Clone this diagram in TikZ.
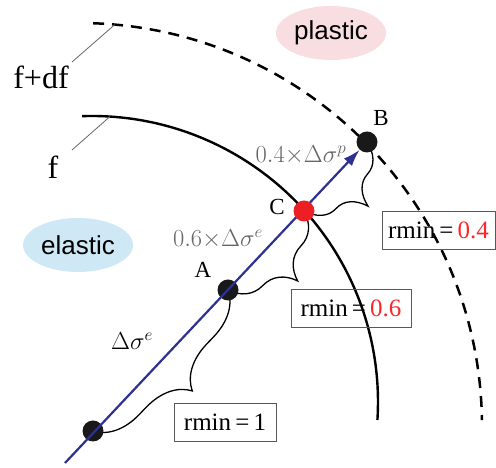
\documentclass[tikz,border=0pt]{standalone}
\usepackage{fix-cm}
\usepackage{fontspec}
\setmainfont{Liberation Serif}
\newfontfamily\zonefont{Liberation Sans}
\usetikzlibrary{arrows.meta, decorations.pathreplacing, calc, shapes.geometric}

\definecolor{navy}{RGB}{46,49,146}
\definecolor{numred}{RGB}{250,40,40}
\definecolor{dotred}{RGB}{236,32,36}
\definecolor{plasticpink}{RGB}{248,222,224}
\definecolor{elasticblue}{RGB}{206,233,245}

\begin{document}
\begin{tikzpicture}[
  x=1pt, y=1pt,
  dot/.style={circle, fill=black!90, minimum size=21pt, inner sep=0pt},
  reddot/.style={circle, fill=dotred, minimum size=21pt, inner sep=0pt},
  zone/.style={ellipse, minimum width=110pt, minimum height=54pt, inner sep=0pt,
    font=\zonefont\fontsize{26}{26}\selectfont},
  ptlabel/.style={font=\fontsize{23}{23}\selectfont},
  surflabel/.style={font=\fontsize{32}{32}\selectfont},
  incr/.style={text=black!60, font=\fontsize{24.5}{24.5}\selectfont},
  rbox/.style={draw=black!65, line width=0.9pt, minimum height=38pt, inner sep=0pt,
    font=\fontsize{25}{25}\selectfont},
  brc/.style={decorate, decoration={brace, amplitude=44pt}, line width=1.3pt},
  leader/.style={draw=black!60, line width=0.8pt}
]
\useasboundingbox (0,0) rectangle (496,468);

% centres of the two yield surfaces
\coordinate (Of)  at (92,66);
\coordinate (Odf) at (79,42);

% yield surfaces f and f+df
\draw[line width=2.4pt] ($(Of)+(92:286pt)$) arc[start angle=92, end angle=-3.6, radius=286pt];
\draw[line width=2.5pt, dash pattern=on 11pt off 8pt]
  ($(Odf)+(88:403pt)$) arc[start angle=88, end angle=0.85, radius=403pt];

% points on the stress path
\coordinate (l0) at (65,5);
\coordinate (p0) at (93,37);
\coordinate (a)  at (228,178);
\coordinate (c)  at (304,257);
\coordinate (b)  at (367,326);

% braces
\draw[brc] (a) -- (p0);
\draw[brc] (c) -- (a);
\draw[brc] (b) -- (c);

% dots and stress increment
\node[dot] (P0) at (p0) {};
\node[dot] (A)  at (a)  {};
\node[dot] (B)  at (b)  {};
\draw[navy, line width=2.2pt, -{Latex[length=17pt, width=11pt]}] (l0) -- (B);
\node[reddot] (C) at (c) {};

\node[ptlabel] (labA) at (203,198) {A};
\node[ptlabel] (labB) at (381,350) {B};
\node[ptlabel] (labC) at (277,261) {C};

% surface labels with leaders
\node[surflabel] (fdf) at (41,391) {f+df};
\node[surflabel] (f)   at (53,301) {f};
\coordinate (fdfend) at ($(Odf)+(84.9:403pt)$);
\coordinate (fend)   at ($(Of)+(86.4:286pt)$);
\draw[leader] (72,406) -- (fdfend);
\draw[leader] (72,318) -- (fend);

% regions
\node[zone, fill=plasticpink] (plastic) at (331,435) {plastic};
\node[zone, fill=elasticblue] (elastic) at (78,223) {elastic};

% increments
\node[incr] (dp)  at (301,313) {$0.4{\times}\Delta\sigma^{p}$};
\node[incr] (de6) at (218,229) {$0.6{\times}\Delta\sigma^{e}$};
\node[incr, text=black] (de) at (132,127) {$\Delta\sigma^{e}$};

% rmin boxes
\node[rbox, minimum width=102pt] (r1)  at (225,46)    {rmin\,=\,1};
\node[rbox, minimum width=120pt] (r06) at (351,159.5) {rmin\,=\,{\color{numred}0.6}};
\node[rbox, minimum width=113pt] (r04) at (438.5,238) {rmin\,=\,{\color{numred}0.4}};
\end{tikzpicture}
\end{document}
